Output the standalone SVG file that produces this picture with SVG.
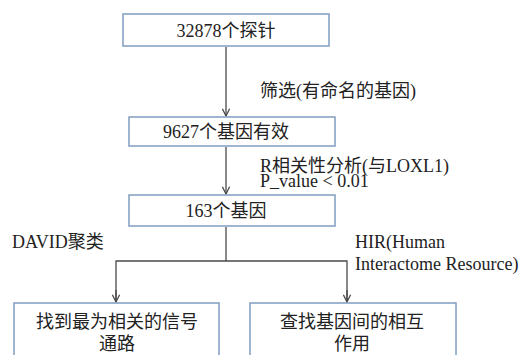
<svg xmlns="http://www.w3.org/2000/svg" width="519" height="355" viewBox="0 0 519 355">
<defs>
<style>
.box{fill:#fff;stroke:#7f9cc0;stroke-width:1.5}
.t{font-family:"Liberation Serif","Noto Sans CJK SC",serif;font-size:18px;fill:#222}
.c{text-anchor:middle}
.ln{stroke:#4a4a4a;stroke-width:1.3;fill:none}
</style>
<marker id="arr" viewBox="0 0 10 10" refX="9" refY="5" markerWidth="9" markerHeight="9" markerUnits="userSpaceOnUse" orient="auto">
<path d="M1,1 L9,5 L1,9" fill="none" stroke="#4a4a4a" stroke-width="1.4"/>
</marker>
</defs>
<rect width="519" height="355" fill="#fff"/>
<g id="connectors">
<line class="ln" x1="226" y1="47" x2="226" y2="116" marker-end="url(#arr)"/>
<line class="ln" x1="226" y1="147" x2="226" y2="194" marker-end="url(#arr)"/>
<polyline class="ln" points="226,227 226,261"/>
<polyline class="ln" points="116,302 116,261 347,261 347,302"/>
<line class="ln" x1="116" y1="290" x2="116" y2="302" marker-end="url(#arr)"/>
<line class="ln" x1="347" y1="290" x2="347" y2="302" marker-end="url(#arr)"/>
</g>
<g id="labels">
<text class="t" x="260" y="97">筛选(有命名的基因)</text>
<text class="t" x="260" y="172">R相关性分析(与LOXL1)</text>
<text class="t" x="260" y="187">P_value &lt; 0.01</text>
<text class="t" x="12" y="248">DAVID聚类</text>
<text class="t" x="355" y="248">HIR(Human</text>
<text class="t" x="355" y="270">Interactome Resource)</text>
</g>
<g id="n1">
<rect class="box" x="123" y="14" width="206" height="32"/>
<text class="t c" x="226" y="37">32878个探针</text>
</g>
<g id="n2">
<rect class="box" x="129" y="117" width="206" height="29"/>
<text class="t c" x="226" y="138">9627个基因有效</text>
</g>
<g id="n3">
<rect class="box" x="129" y="195" width="206" height="31"/>
<text class="t c" x="226" y="217">163个基因</text>
</g>
<g id="n4">
<rect class="box" x="14" y="303" width="205" height="60"/>
<text class="t c" x="117" y="328">找到最为相关的信号</text>
<text class="t c" x="117" y="350">通路</text>
</g>
<g id="n5">
<rect class="box" x="250" y="303" width="206" height="60"/>
<text class="t c" x="352" y="328">查找基因间的相互</text>
<text class="t c" x="352" y="350">作用</text>
</g>
</svg>
